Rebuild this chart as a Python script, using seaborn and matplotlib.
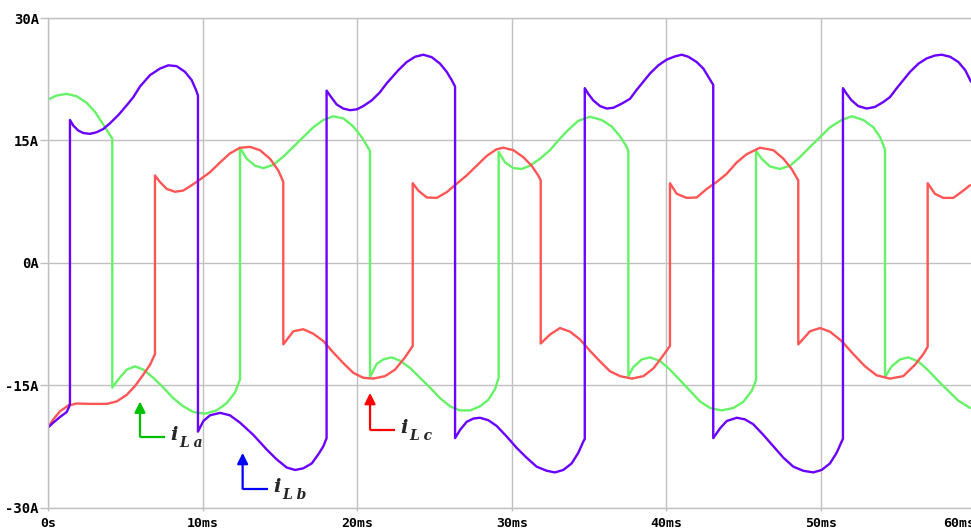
import matplotlib
matplotlib.use("Agg")
import matplotlib.pyplot as plt
import numpy as np
import pandas as pd
import seaborn as sns

# ---------------- data (time in ms, current in A) ----------------
green_t = [0.0, 0.56, 1.21, 1.86, 2.50, 3.04, 3.47, 3.90, 4.16,
           4.16, 4.55, 5.09, 5.63, 6.17, 6.81, 7.46, 8.10, 8.75, 9.40, 10.16, 10.91, 11.56, 12.10, 12.42,
           12.42, 12.85, 13.39, 13.93, 14.57, 15.22, 15.87, 16.51, 17.16, 17.81, 18.45, 19.10, 19.75, 20.29, 20.83,
           20.83, 21.26, 21.69, 22.23, 22.77, 23.42, 24.06, 24.71, 25.36, 26.00, 26.65, 27.30, 27.94, 28.48, 28.91,
           29.15,
           29.15, 29.56, 30.10, 30.64, 31.18, 31.82, 32.47, 33.01, 33.66, 34.30, 35.06, 35.81, 36.46, 37.00, 37.43,
           37.54,
           37.54, 37.86, 38.40, 38.94, 39.59, 40.23, 40.88, 41.53, 42.17, 42.82, 43.58, 44.33, 44.97, 45.52, 45.80,
           45.80, 46.16, 46.70, 47.35, 48.00, 48.64, 49.29, 49.94, 50.58, 51.34, 51.98, 52.74, 53.39, 53.82, 54.14,
           54.14, 54.57, 55.11, 55.65, 56.30, 56.94, 57.59, 58.23, 58.88, 59.64]
green_i = [20.0, 20.5, 20.7, 20.4, 19.6, 18.5, 17.25, 16.0, 15.2,
           -15.3, -14.3, -13.1, -12.7, -13.1, -14.1, -15.3, -16.6, -17.6, -18.3, -18.5, -18.1, -17.2, -15.9, -14.3,
           14.1, 12.75, 11.9, 11.6, 12.0, 13.0, 14.2, 15.4, 16.6, 17.5, 17.95, 17.7, 16.7, 15.4, 13.7,
           -14.0, -12.4, -11.85, -11.6, -12.0, -12.9, -14.1, -15.3, -16.6, -17.6, -18.1, -18.1, -17.6, -16.8, -15.5,
           -14.1,
           13.6, 12.3, 11.6, 11.5, 11.9, 12.75, 13.8, 15.0, 16.3, 17.4, 17.9, 17.5, 16.7, 15.5, 14.2,
           13.6,
           -13.9, -12.8, -11.85, -11.6, -12.05, -13.1, -14.4, -15.7, -17.0, -17.8, -18.1, -17.8, -17.05, -15.7, -14.4,
           13.7, 12.75, 11.8, 11.5, 11.9, 12.95, 14.2, 15.4, 16.6, 17.5, 17.95, 17.5, 16.6, 15.4, 13.9,
           -14.0, -12.7, -11.85, -11.6, -12.1, -13.2, -14.5, -15.7, -16.9, -17.8]

purple_t = [0.0, 0.34, 0.78, 1.21, 1.38, 1.42,
            1.42, 1.64, 1.96, 2.29, 2.72, 3.15, 3.58, 4.01, 4.55, 5.09, 5.52, 5.95, 6.60, 7.24, 7.78, 8.32, 8.86,
            9.29, 9.57, 9.70,
            9.70, 10.05, 10.48, 11.13, 11.77, 12.42, 13.28, 14.15, 14.79, 15.44, 15.98, 16.51, 17.06, 17.48, 17.81,
            18.02,
            18.02, 18.24, 18.67, 19.10, 19.53, 19.97, 20.39, 20.94, 21.47, 21.91, 22.66, 23.20, 23.74, 24.28, 24.82,
            25.36, 25.79, 26.11, 26.33,
            26.33, 26.65, 27.08, 27.51, 27.94, 28.48, 29.02, 29.67, 30.32, 30.96, 31.61, 32.26, 32.79, 33.33, 33.87,
            34.30, 34.63, 34.72,
            34.72, 34.95, 35.27, 35.71, 36.14, 36.57, 37.11, 37.65, 38.08, 38.51, 38.94, 39.48, 40.02, 40.56, 40.99,
            41.42, 41.96, 42.39, 42.71, 43.03,
            43.03, 43.47, 43.90, 44.55, 45.08, 45.62, 46.27, 46.92, 47.57, 48.21, 48.86, 49.50, 50.04, 50.58, 51.01,
            51.34, 51.42,
            51.42, 51.66, 51.98, 52.41, 52.96, 53.49, 54.03, 54.46, 54.90, 55.33, 55.76, 56.30, 56.84, 57.37, 57.81,
            58.35, 58.89, 59.33, 59.70]
purple_i = [-20.2, -19.6, -18.9, -18.3, -17.6, -17.2,
            17.5, 16.8, 16.2, 15.9, 15.8, 16.0, 16.4, 17.1, 18.1, 19.3, 20.3, 21.6, 23.0, 23.8, 24.2, 24.1, 23.4,
            22.4, 21.2, 20.5,
            -20.7, -19.4, -18.7, -18.4, -18.7, -19.6, -21.1, -22.9, -24.1, -25.1, -25.4, -25.2, -24.6, -23.5, -22.5,
            -21.5,
            21.1, 20.5, 19.4, 18.9, 18.7, 18.8, 19.2, 19.9, 20.9, 22.0, 23.6, 24.6, 25.25, 25.5, 25.2,
            24.4, 23.4, 22.4, 21.6,
            -21.5, -20.5, -19.5, -19.1, -19.0, -19.3, -20.0, -21.3, -22.7, -23.9, -25.0, -25.5, -25.7, -25.4, -24.6,
            -23.3, -21.9, -21.6,
            21.4, 20.7, 19.9, 19.2, 18.9, 19.0, 19.5, 20.1, 21.2, 22.2, 23.2, 24.2, 24.9, 25.3, 25.5,
            25.25, 24.6, 23.8, 22.8, 21.8,
            -21.5, -20.3, -19.4, -19.0, -19.2, -19.8, -21.1, -22.5, -23.9, -25.0, -25.5, -25.7, -25.4, -24.6, -23.3,
            -21.9, -21.6,
            21.4, 20.7, 19.9, 19.2, 18.9, 19.1, 19.7, 20.3, 21.4, 22.4, 23.4, 24.4, 25.05, 25.4, 25.5,
            25.25, 24.6, 23.6, 22.2]

red_t = [0.0, 0.34, 0.78, 1.31, 1.86, 2.72, 3.80, 4.44, 5.09, 5.63, 6.17, 6.60, 6.92,
         6.92, 7.24, 7.68, 8.21, 8.75, 9.29, 9.83, 10.48, 11.13, 11.77, 12.42, 13.07, 13.71, 14.36, 14.90, 15.22,
         15.22, 15.87, 16.51, 17.16, 17.81, 18.45, 19.10, 19.75, 20.39, 21.04, 21.80, 22.45, 23.09, 23.59,
         23.59, 23.95, 24.50, 25.14, 25.79, 26.44, 27.08, 27.73, 28.38, 29.00, 29.45, 30.10, 30.74, 31.28, 31.71,
         31.87,
         31.87, 32.47, 33.12, 33.77, 34.41, 35.06, 35.71, 36.35, 37.00, 37.76, 38.51, 39.16, 39.70, 40.23,
         40.23, 40.67, 41.31, 41.96, 42.61, 43.25, 43.90, 44.55, 45.19, 46.05, 46.92, 47.57, 48.10, 48.53,
         48.53, 49.29, 49.94, 50.58, 51.34, 52.09, 52.85, 53.60, 54.46, 55.32, 56.08, 56.62, 56.90,
         56.90, 57.37, 57.91, 58.56, 59.21, 59.64]
red_i = [-20.2, -19.2, -18.2, -17.5, -17.25, -17.3, -17.3, -17.0, -16.2, -15.1, -13.7, -12.5, -11.2,
         10.7, 9.9, 9.05, 8.7, 8.85, 9.5, 10.2, 11.1, 12.3, 13.4, 14.1, 14.2, 13.8, 12.75, 11.3, 9.9,
         -10.0, -8.4, -8.15, -8.7, -9.6, -11.0, -12.3, -13.5, -14.1, -14.2, -13.9, -13.1, -11.6, -10.2,
         9.75, 8.85, 8.0, 7.95, 8.65, 9.7, 10.7, 11.9, 13.1, 13.9, 14.1, 13.8, 12.95, 11.9, 10.7,
         10.1,
         -9.9, -8.8, -8.0, -8.45, -9.4, -10.8, -12.1, -13.3, -13.9, -14.2, -13.9, -12.95, -11.6, -10.2,
         9.75, 8.45, 7.95, 8.0, 9.05, 9.9, 10.9, 12.3, 13.3, 14.1, 13.8, 12.75, 11.5, 10.1,
         -10.0, -8.4, -8.0, -8.45, -9.6, -11.2, -12.7, -13.8, -14.2, -13.9, -12.5, -11.2, -10.3,
         9.75, 8.45, 7.95, 7.95, 8.85, 9.5]

x_ticks = [0, 10, 20, 30, 40, 50, 60]
x_labels = ["0s", "10ms", "20ms", "30ms", "40ms", "50ms", "60ms"]
y_ticks = [-30, -15, 0, 15, 30]
y_labels = ["-30A", "-15A", "0A", "15A", "30A"]

# annotation labels
ann_names = ["i", "i", "i"]
ann_subs = ["L a", "L b", "L c"]
ann_tip_t = [5.95, 12.59, 20.83]
ann_tip_i = [-17.0, -23.3, -15.95]
ann_corner_i = [-21.3, -27.7, -20.45]
ann_end_t = [7.57, 14.23, 22.45]
ann_colors = ["#00C000", "#0000FF", "#FF0000"]

# ---------------- plot ----------------
sns.set_style("white")
plt.rcParams["font.family"] = ["DejaVu Sans Mono", "DejaVu Sans"]

fig = plt.figure(figsize=(9.71, 5.30), dpi=100)
ax = fig.add_axes([48 / 971, 22.5 / 530, 927.6 / 971, 489.5 / 530])

series = [
    (green_t, green_i, "#66F266"),
    (red_t, red_i, "#FF5555"),
    (purple_t, purple_i, "#6A00FF"),
]
for t, i, c in series:
    df = pd.DataFrame({"t": t, "i": i})
    sns.lineplot(data=df, x="t", y="i", ax=ax, sort=False, estimator=None,
                 color=c, lw=1.7, legend=False)

ax.set_xlim(0, 60)
ax.set_ylim(-30, 30)
ax.set_xticks(x_ticks)
ax.set_xticklabels(x_labels)
ax.set_yticks(y_ticks)
ax.set_yticklabels(y_labels)
ax.set_xlabel("")
ax.set_ylabel("")
ax.grid(True, color="#C0C0C0", lw=1.0)
ax.set_axisbelow(True)
for s in ["left", "bottom", "top"]:
    ax.spines[s].set_color("#C0C0C0")
    ax.spines[s].set_linewidth(1.0)
ax.spines["right"].set_visible(False)
ax.tick_params(axis="y", length=6, width=1, color="#C0C0C0", pad=0.5,
               labelsize=10, left=True)
ax.tick_params(axis="x", length=2.5, width=1, color="#C0C0C0", pad=4.5,
               labelsize=9.5, bottom=True)
for lab in ax.get_xticklabels() + ax.get_yticklabels():
    lab.set_fontweight("bold")
    lab.set_color("black")
ax.get_xticklabels()[-1].set_horizontalalignment("right")

for k in range(3):
    col = ann_colors[k]
    ax.annotate("", xy=(ann_tip_t[k], ann_tip_i[k]), xytext=(ann_tip_t[k], ann_corner_i[k]),
                arrowprops=dict(arrowstyle="-|>", color=col, lw=1.6, mutation_scale=16,
                                shrinkA=0, shrinkB=0))
    ax.plot([ann_tip_t[k], ann_end_t[k]], [ann_corner_i[k], ann_corner_i[k]], color=col, lw=1.6,
            solid_capstyle="butt")
    ax.annotate(ann_names[k], xy=(ann_end_t[k], ann_corner_i[k]), xytext=(4, 1),
                textcoords="offset points", ha="left", va="center",
                family="DejaVu Serif", fontweight="bold", fontstyle="italic", fontsize=14)
    ax.annotate(ann_subs[k], xy=(ann_end_t[k], ann_corner_i[k]), xytext=(10.5, -4.5),
                textcoords="offset points", ha="left", va="center",
                family="DejaVu Serif", fontweight="bold", fontstyle="italic", fontsize=10)

fig.savefig("out.png", dpi=100)
